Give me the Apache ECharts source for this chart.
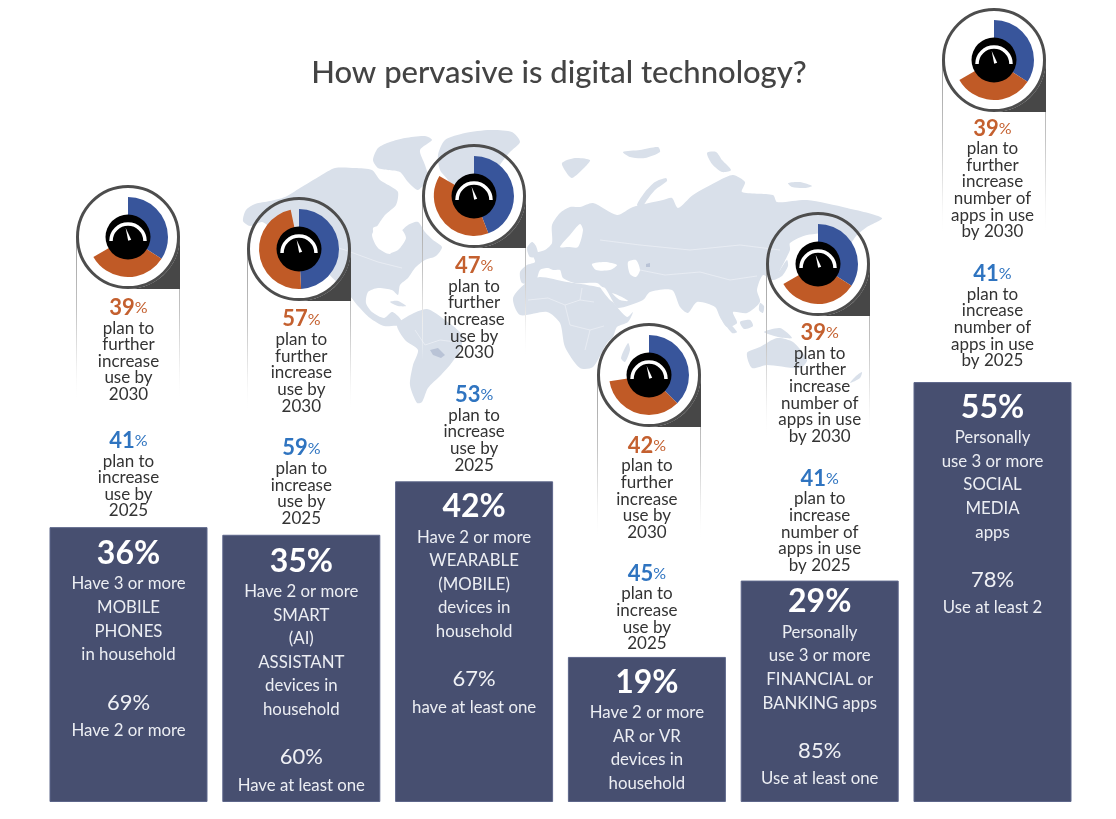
<!DOCTYPE html>
<html>
<head>
<meta charset="utf-8">
<style>html,body{margin:0;padding:0;background:#fff}#main{width:1116px;height:819px}</style>
<script src="https://cdn.jsdelivr.net/npm/echarts@6/dist/echarts.min.js"></script>
</head>
<body>
<div id="main"></div>
<script>
// 数据
var categories = ['Mobile phones', 'Smart assistants', 'Wearables', 'AR or VR', 'Financial apps', 'Social media apps'];
var headlinePct = [36, 35, 42, 19, 29, 55];
var secondPct = [69, 60, 67, null, 85, 78];
var plan2025 = [41, 59, 53, 45, 41, 41];
var plan2030 = [39, 57, 47, 42, 39, 39];
var headlineText = [
	['Have 3 or more', 'MOBILE', 'PHONES', 'in household'],
	['Have 2 or more', 'SMART', '(AI)', 'ASSISTANT', 'devices in', 'household'],
	['Have 2 or more', 'WEARABLE', '(MOBILE)', 'devices in', 'household'],
	['Have 2 or more', 'AR or VR', 'devices in', 'household'],
	['Personally', 'use 3 or more', 'FINANCIAL or', 'BANKING apps'],
	['Personally', 'use 3 or more', 'SOCIAL', 'MEDIA', 'apps']
];
var secondText = ['Have 2 or more', 'Have at least one', 'have at least one', '', 'Use at least one', 'Use at least 2'];
var text2025 = [
	['plan to', 'increase', 'use by', '2025'],
	['plan to', 'increase', 'use by', '2025'],
	['plan to', 'increase', 'use by', '2025'],
	['plan to', 'increase', 'use by', '2025'],
	['plan to', 'increase', 'number of', 'apps in use', 'by 2025'],
	['plan to', 'increase', 'number of', 'apps in use', 'by 2025']
];
var text2030 = [
	['plan to', 'further', 'increase', 'use by', '2030'],
	['plan to', 'further', 'increase', 'use by', '2030'],
	['plan to', 'further', 'increase', 'use by', '2030'],
	['plan to', 'further', 'increase', 'use by', '2030'],
	['plan to', 'further', 'increase', 'number of', 'apps in use', 'by 2030'],
	['plan to', 'further', 'increase', 'number of', 'apps in use', 'by 2030']
];
// 环形图满圈对应的百分比
var ringFullScale = 120;

// 布局
var iconCenters = [[128, 237], [299, 249], [474, 196], [649, 375], [818, 264], [994, 60]];
var panelHeights = [165, 164, 164, 165, 176, 177];
var aboveDistance = [8, 8, 8, 5, 7, 13];
var aboveGapStyle = ['g26', 'g22', 'g22', 'g21', 'g22', 'g22'];
var insideDistance = [8, 8, 7, 7, 3, 7];
var mapColor = '#d9e0ea';
var FONT = 'Lato';

// 世界地图底图（手描轮廓）
var landShapes = [
	// 北美
	[[243,221],[246,210],[255,204],[270,201],[285,197],[300,188],[320,176],[335,168],[355,168],[372,170],[380,180],[390,186],[398,192],[396,205],[385,215],[378,225],[372,235],[378,248],[390,254],[395,245],[400,233],[408,225],[418,222],[425,232],[433,240],[442,247],[436,256],[425,260],[415,268],[408,278],[400,285],[398,295],[392,290],[378,288],[368,292],[366,303],[372,312],[384,318],[392,312],[398,316],[403,322],[415,328],[408,330],[398,326],[384,326],[370,318],[358,306],[350,296],[340,285],[325,270],[315,250],[300,235],[285,228],[272,228],[262,222],[250,226]],
	// 北极群岛
	[[373,160],[378,148],[390,142],[405,138],[425,136],[432,140],[420,150],[425,165],[428,178],[418,190],[408,182],[400,172],[388,170],[378,168]],
	// 格陵兰
	[[438,155],[445,140],[465,133],[490,130],[512,132],[520,142],[510,152],[500,165],[495,180],[485,195],[470,205],[455,195],[448,180],[440,170]],
	// 冰岛 / 岛屿
	[[562,163],[575,158],[590,160],[585,167],[572,178],[566,172]],
	[[623,152],[640,150],[658,147],[660,152],[645,158],[630,157]],
	[[707,153],[716,152],[722,160],[731,170],[722,172],[712,164]],
	[[788,183],[800,182],[812,186],[805,188],[792,187]],
	[[637,205],[645,192],[655,182],[666,178],[667,181],[655,190],[647,200],[642,207]],
	// 英国
	[[527,248],[532,242],[536,246],[538,256],[530,257]],
	// 亚欧
	[[580,207],[593,203],[617,215],[633,207],[663,200],[672,198],[678,208],[693,195],[720,180],[733,175],[745,182],[742,192],[773,195],[777,202],[807,200],[847,208],[882,218],[867,227],[857,235],[850,243],[843,233],[807,235],[790,243],[790,250],[780,270],[773,280],[763,275],[757,290],[760,302],[747,313],[733,312],[737,323],[727,327],[720,317],[715,307],[697,302],[688,313],[680,307],[672,290],[650,292],[643,300],[618,308],[612,300],[602,287],[597,283],[575,283],[563,278],[560,270],[553,270],[548,268],[540,270],[535,283],[522,283],[520,272],[527,265],[535,262],[533,254],[545,250],[552,243],[552,225],[560,213],[570,207]],
	// 非洲
	[[513,298],[527,282],[540,277],[567,282],[587,285],[607,290],[613,302],[627,317],[633,312],[628,322],[617,327],[613,337],[607,343],[593,367],[580,368],[565,347],[560,323],[547,312],[520,315]],
	// 马达加斯加
	[[628,343],[630,350],[625,362],[621,358]],
	// 南美
	[[397,325],[410,315],[427,309],[445,320],[462,335],[460,350],[450,365],[440,376],[428,388],[422,402],[417,403],[410,385],[413,365],[418,350],[405,340]],
	// 澳洲
	[[747,353],[760,347],[777,338],[793,342],[807,360],[800,368],[767,365],[752,368]],
	// 新西兰
	[[850,383],[856,376],[862,372],[860,378]],
	// 印尼 / 菲律宾 / 日本
	[[720,317],[728,322],[737,332],[732,333]],
	[[740,322],[750,320],[753,326],[744,329]],
	[[760,303],[764,306],[763,313],[759,310]],
	[[764,332],[780,328],[792,338],[778,337]],
	[[773,280],[780,270],[787,260],[788,266],[782,276]],
	// 古巴
	[[390,302],[398,301],[406,306],[398,306]]
];
var seaShapes = [
	[[373,228],[384,226],[400,228],[406,238],[398,250],[388,253],[378,245]],
	[[560,247],[570,235],[580,224],[583,230],[578,247],[568,247]],
	[[592,264],[605,262],[617,265],[610,270],[596,270]],
	[[628,262],[636,260],[640,270],[636,277],[630,274]],
	[[600,287],[605,288],[613,302],[610,300]],
	[[612,293],[622,297],[628,301],[620,300]]
];
var darkShapes = [
	[[430,350],[438,348],[445,355],[441,358],[433,355]],
	[[646,264],[650,263],[650,267],[646,267]]
];
// 国界白线
var borderLines = [
	[[528,300],[548,298],[565,305],[580,300],[594,302]],
	[[565,305],[570,325],[590,330],[604,326]],
	[[580,300],[582,288]],
	[[590,330],[585,350]],
	[[415,330],[425,345],[440,340],[456,342]],
	[[640,270],[665,275],[700,272],[730,280],[757,276]],
	[[600,240],[640,245],[690,250],[740,245],[780,250]],
	[[300,236],[345,250],[378,262],[402,268]]
];

function pieSeries(i) {
	var rest = ringFullScale - plan2025[i] - plan2030[i];
	return {
		type: 'pie',
		name: categories[i],
		center: iconCenters[i],
		radius: [20, 40],
		startAngle: 90,
		clockwise: true,
		silent: true,
		animation: false,
		label: { show: false },
		labelLine: { show: false },
		data: [
			{ value: plan2025[i], name: '2025', itemStyle: { color: '#38559b' } },
			{ value: plan2030[i], name: '2030', itemStyle: { color: '#c05a26' } },
			{ value: rest, name: 'rest', itemStyle: { color: 'transparent' } }
		]
	};
}

function buildGraphic() {
	var els = [];
	landShapes.forEach(function(p) {
		els.push({ type: 'polygon', z: 0, silent: true, shape: { points: p, smooth: 0.25 }, style: { fill: mapColor } });
	});
	seaShapes.forEach(function(p) {
		els.push({ type: 'polygon', z: 0, silent: true, shape: { points: p, smooth: 0.25 }, style: { fill: '#fff' } });
	});
	darkShapes.forEach(function(p) {
		els.push({ type: 'polygon', z: 0, silent: true, shape: { points: p }, style: { fill: '#b9c3d6' } });
	});
	borderLines.forEach(function(p) {
		els.push({ type: 'polyline', z: 0, silent: true, shape: { points: p }, style: { fill: 'none', stroke: '#eef1f6', lineWidth: 0.7 } });
	});
	var r = 52;
	iconCenters.forEach(function(c, i) {
		var x = c[0], y = c[1];
		// 渐隐竖线
		[x - r, x + r - 1].forEach(function(lx) {
			els.push({
				type: 'rect', z: 1, silent: true,
				shape: { x: lx, y: y, width: 1, height: panelHeights[i] },
				style: { fill: { type: 'linear', x: 0, y: 0, x2: 0, y2: 1, colorStops: [
					{ offset: 0, color: '#a0a0a0' }, { offset: 0.45, color: '#c4c4c4' },
					{ offset: 0.75, color: '#ececec' }, { offset: 1, color: 'rgba(255,255,255,0)' }
				] } }
			});
		});
		// 右下深色角
		var corner = [[x + r, y], [x + r, y + r], [x, y + r]];
		for (var a = 90; a >= 0; a -= 6) {
			corner.push([x + r * Math.cos(a * Math.PI / 180), y + r * Math.sin(a * Math.PI / 180)]);
		}
		els.push({ type: 'polygon', z: 1, silent: true, shape: { points: corner }, style: { fill: '#474747' } });
		els.push({ type: 'circle', z: 1, silent: true, shape: { cx: x, cy: y, r: r - 1.5 }, style: { fill: 'none', stroke: '#4d4d4d', lineWidth: 3 } });
		// 仪表
		els.push({ type: 'circle', z: 5, silent: true, shape: { cx: x, cy: y, r: 22.5 }, style: { fill: '#000' } });
		els.push({ type: 'arc', z: 6, silent: true, shape: { cx: x, cy: y + 4, r: 17, startAngle: Math.PI, endAngle: Math.PI * 2 }, style: { fill: 'none', stroke: '#fff', lineWidth: 3.5 } });
		els.push({ type: 'polygon', z: 6, silent: true, shape: { points: [[x - 2.4, y - 9.3], [x + 0.2, y + 3.8], [x + 3.2, y + 2.8]] }, style: { fill: '#fff' } });
	});
	return els;
}

function insideLabel(i) {
	var s = '{big|' + headlinePct[i] + '%}\n';
	s += headlineText[i].map(function(t) { return '{txt|' + t + '}'; }).join('\n');
	if (secondPct[i] !== null) {
		s += '\n{gap| }\n{mid|' + secondPct[i] + '%}\n{txt|' + secondText[i] + '}';
	}
	return s;
}
function aboveLabel(i) {
	var s = '{o|' + plan2030[i] + '}{op|%}\n';
	s += text2030[i].map(function(t) { return '{t|' + t + '}'; }).join('\n');
	s += '\n{' + aboveGapStyle[i] + '| }\n{b|' + plan2025[i] + '}{bp|%}\n';
	s += text2025[i].map(function(t) { return '{t|' + t + '}'; }).join('\n');
	return s;
}

var barData = headlinePct.map(function(v, i) {
	return { value: v, label: { formatter: insideLabel(i), distance: insideDistance[i] } };
});
var aboveData = headlinePct.map(function(v, i) {
	return { value: v, label: { formatter: aboveLabel(i), distance: aboveDistance[i] } };
});

var series = [{
	type: 'bar',
	name: 'above',
	data: aboveData,
	barWidth: 158,
	barGap: '-100%',
	silent: true,
	animation: false,
	itemStyle: { color: 'transparent' },
	label: {
		show: true,
		position: 'top',
		align: 'center',
		fontFamily: FONT,
		rich: {
			o: { fontFamily: FONT, fontSize: 22, fontWeight: 700, color: '#c4602f', lineHeight: 24 },
			op: { fontFamily: FONT, fontSize: 16, color: '#c4602f', lineHeight: 24 },
			b: { fontFamily: FONT, fontSize: 22, fontWeight: 700, color: '#2f74c0', lineHeight: 24 },
			bp: { fontFamily: FONT, fontSize: 16, color: '#2f74c0', lineHeight: 24 },
			t: { fontFamily: FONT, fontSize: 17, color: '#333', lineHeight: 16.6 },
			g26: { fontSize: 10, lineHeight: 26 },
			g22: { fontSize: 10, lineHeight: 22 },
			g21: { fontSize: 10, lineHeight: 21 }
		}
	}
}, {
	type: 'bar',
	name: 'headline',
	data: barData,
	barWidth: 158,
	silent: true,
	animation: false,
	itemStyle: { color: '#474f70', borderColor: '#5d668a', borderWidth: 1 },
	label: {
		show: true,
		position: 'insideTop',
		align: 'center',
		fontFamily: FONT,
		rich: {
			big: { fontFamily: FONT, fontSize: 32, fontWeight: 700, color: '#fff', lineHeight: 37 },
			mid: { fontFamily: FONT, fontSize: 22, color: '#f0f1f5', lineHeight: 32 },
			txt: { fontFamily: FONT, fontSize: 16.8, color: '#eceef3', lineHeight: 23.6 },
			gap: { fontSize: 10, lineHeight: 20 }
		}
	}
}];
for (var i = 0; i < categories.length; i++) {
	series.push(pieSeries(i));
}

var myChart = echarts.init(document.getElementById('main'));
myChart.setOption({
	backgroundColor: '#fff',
	animation: false,
	title: {
		text: 'How pervasive is digital technology?',
		left: 554,
		top: 52,
		textAlign: 'center',
		textStyle: { fontFamily: FONT, fontSize: 31, fontWeight: 500, color: '#444' }
	},
	grid: { left: 42.1, width: 1036.8, top: 38.5, height: 763.5, containLabel: false },
	xAxis: { type: 'category', data: categories, show: false },
	yAxis: { type: 'value', min: 0, max: 100, show: false },
	graphic: { elements: buildGraphic() },
	series: series
});
</script>
</body>
</html>
